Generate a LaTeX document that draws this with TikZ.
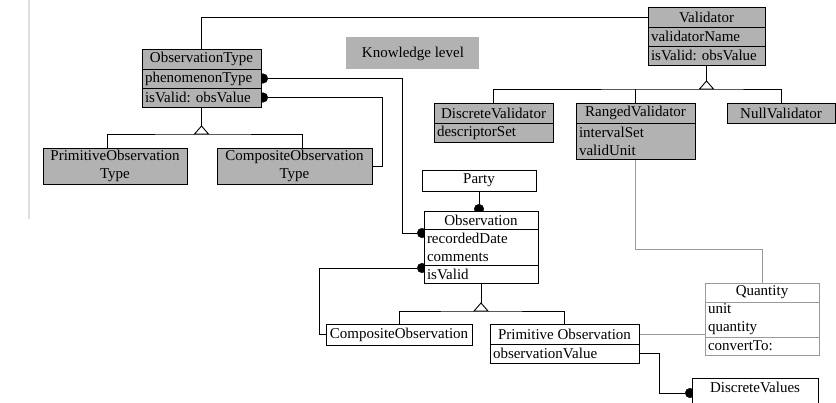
\documentclass[tikz,border=0pt]{standalone}
\usepackage{fontspec}
\setmainfont{Liberation Serif}
\usepackage{tikz}
\usetikzlibrary{shapes,arrows.meta,positioning,calc,backgrounds}
\frenchspacing
\definecolor{clsfill}{gray}{0.7}
\definecolor{softline}{gray}{0.6}
\definecolor{marginline}{gray}{0.87}
\newcommand{\gentri}[1]{\draw [fill=white] (#1) ++(-7,0) -- ++(7,-8) -- ++(7,8) -- cycle;}
\tikzset{
clshead/.style = {draw, fill=clsfill, rectangle, align=center, minimum width=#1, minimum height=20pt, inner sep=0pt, outer sep=0pt},
clsrow/.style = {draw, fill=clsfill, rectangle, align=left, text width=#1, minimum height=19pt, inner xsep=3pt, inner ysep=0pt, outer sep=0pt},
whitebox/.style = {fill=white},
dotstart/.style = {{Circle[length=10pt]}-, shorten <=-3pt},
dotend/.style = {-{Circle[length=10pt]}, shorten >=-3pt},
dotboth/.style = {{Circle[length=10pt]}-{Circle[length=10pt]}, shorten <=-3pt, shorten >=-3pt},
softlink/.style = {draw=softline},
}
\begin{document}
\begin{tikzpicture}[x=1pt, y=-1pt, font=\fontsize{15}{18}\selectfont, line width=0.9pt]
    \useasboundingbox (0,0) rectangle (836,402);
    \coordinate (margintop) at (29,0);
    \coordinate (marginbot) at (29,219);
    \draw [marginline, line width=2pt] (margintop) -- (marginbot);

    \node [clshead=119pt, anchor=north west] (obstype) at (142,49) {ObservationType};
    \node [clsrow=113pt, below=0pt of obstype] (obstypeA) {phenomenonType};
    \node [clsrow=113pt, below=0pt of obstypeA] (obstypeM) {isValid: obsValue};

    \node [fill=clsfill, minimum width=133pt, minimum height=32pt, anchor=north west] (level) at (346,37) {Knowledge level};

    \node [clshead=117pt, anchor=north west] (validator) at (648,7) {Validator};
    \node [clsrow=111pt, below=0pt of validator] (validatorA) {validatorName};
    \node [clsrow=111pt, below=0pt of validatorA] (validatorM) {isValid: obsValue};

    \node [clshead=144pt, minimum height=36pt, anchor=north west] (primobstype) at (43,148) {PrimitiveObservation\\Type};
    \node [clshead=155pt, minimum height=36pt, anchor=north west] (compobstype) at (217,148) {CompositeObservation\\Type};

    \node [clshead=119pt, anchor=north west] (descval) at (434,103) {DiscreteValidator};
    \node [clsrow=113pt, below=0pt of descval] (descvalA) {descriptorSet};
    \node [clshead=119pt, anchor=north west] (ranged) at (576,103) {RangedValidator};
    \node [clsrow=113pt, minimum height=36pt, below=0pt of ranged] (rangedA) {intervalSet\\validUnit};
    \node [clshead=108pt, anchor=north west] (nullval) at (727,103) {NullValidator};

    \node [clshead=114pt, whitebox, minimum height=21pt, anchor=north west] (party) at (422,170) {Party};
    \node [clshead=114pt, whitebox, minimum height=18pt, anchor=north west] (obs) at (424,211) {Observation};
    \node [clsrow=108pt, whitebox, minimum height=36pt, below=0pt of obs] (obsA) {recordedDate\\comments};
    \node [clsrow=108pt, whitebox, minimum height=18pt, below=0pt of obsA] (obsM) {isValid};

    \node [clshead=146pt, whitebox, minimum height=21pt, anchor=north west] (compobs) at (326,324) {CompositeObservation};
    \node [clshead=149pt, whitebox, anchor=north west] (primobs) at (490,324) {Primitive Observation};
    \node [clsrow=143pt, whitebox, below=0pt of primobs] (primobsA) {observationValue};

    \node [clshead=114pt, whitebox, draw=softline, minimum height=19pt, anchor=north west] (qty) at (705,283) {Quantity};
    \node [clsrow=108pt, whitebox, draw=softline, minimum height=35pt, below=0pt of qty] (qtyA) {unit\\quantity};
    \node [clsrow=108pt, whitebox, draw=softline, minimum height=18pt, below=0pt of qtyA] (qtyM) {convertTo:};

    \node [clshead=126pt, whitebox, text height=14pt, text depth=30pt, anchor=north west] (dval) at (692,378) {DiscreteValues};

    \coordinate (otjoin) at ($(obstypeM.south)+(0,27)$);
    \coordinate (otleft) at ($(primobstype.north)+(-8,0)$);
    \coordinate (otright) at ($(compobstype.north)+(8,0)$);
    \coordinate (valjoin) at ($(validatorM.south)+(0,24)$);
    \coordinate (obsjoin) at ($(obsM.south)+(0,28)$);

    \begin{scope}[on background layer]
    \draw (obstype.north) |- (validator.west);
    \draw [dotboth] (obstypeA.east) -- ++(141,0) |- ($(obsA.north west)+(0,4)$);
    \draw [dotstart] (obstypeM.east) -- ++(121,0) |- (compobstype.east);

    \draw (obstypeM.south) -- (otjoin);
    \draw (otleft) |- (otjoin) -| (otright);

    \draw (validatorM.south) -- (valjoin);
    \draw (descval.north) |- (valjoin) -| (nullval.north);
    \draw (ranged.north) -- (ranged.north |- valjoin);

    \draw [softlink] (rangedA.south) -- ++(0,90) -| (qty.north);
    \draw [dotend] (party.south) -- (party.south |- obs.north);
    \draw [dotstart] ($(obsM.north west)+(0,3)$) -- ++(-105,0) |- (compobs.west);

    \draw (obsM.south) -- (obsjoin);
    \draw (compobs.north) |- (obsjoin) -| (primobs.north);

    \draw [softlink] (primobs.east) -- (primobs.east -| qtyA.west);
    \draw [dotend] (primobsA.east) -- ++(20,0) |- ($(dval.north west)+(0,15)$);
    \end{scope}

    \gentri{otjoin}
    \gentri{valjoin}
    \gentri{obsjoin}
\end{tikzpicture}
\end{document}
